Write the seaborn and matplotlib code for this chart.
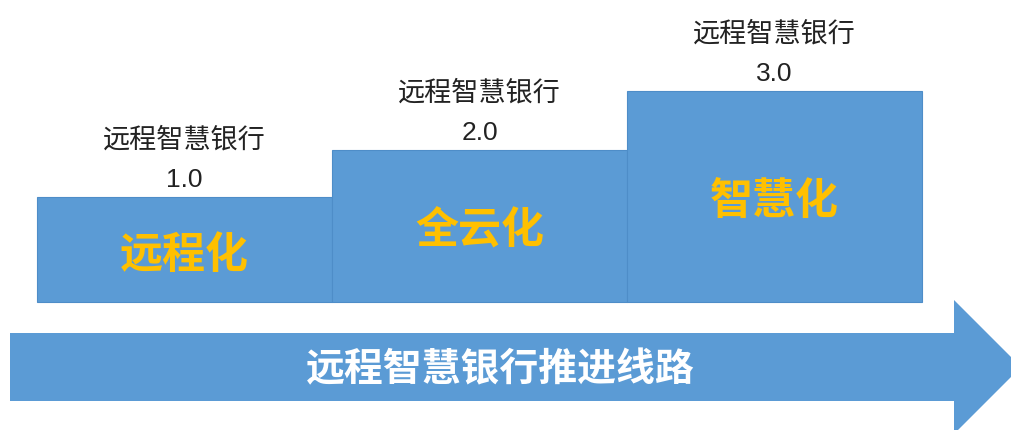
import matplotlib
matplotlib.use("Agg")
import matplotlib.pyplot as plt
from matplotlib.patches import FancyArrow
import seaborn as sns
import pandas as pd

# ---- data ----
stages = ["远程化", "全云化", "智慧化"]
versions = ["1.0", "2.0", "3.0"]
heights = [105, 152, 211]
top_label = "远程智慧银行"
arrow_label = "远程智慧银行推进线路"

BLUE = "#5B9BD5"
YELLOW = "#FFC000"

sns.set_theme(style="white")
plt.rcParams["font.family"] = ["Noto Sans CJK SC", "DejaVu Sans"]

df = pd.DataFrame({"stage": stages, "height": heights})

fig = plt.figure(figsize=(10.11, 4.30), dpi=100)
ax = fig.add_axes([0, 0, 1, 1])

sns.barplot(data=df, x="stage", y="height", order=stages, color=BLUE,
            saturation=1, width=1, gap=0, edgecolor="#4E8DC8", linewidth=0.8,
            ax=ax)

# axes mapping: x in category units (295 px each, bar 0 starts at px 37)
def px_x(p):
    return (p - 37) / 295 - 0.5

def px_y(p):
    return 302 - p

ax.set_xlim(px_x(0), px_x(1011))
ax.set_ylim(px_y(430), px_y(0))
ax.axis("off")

# labels
for i, (st, ver, h) in enumerate(zip(stages, versions, heights)):
    ax.text(i, h / 2 - 5, st, ha="center", va="center", color=YELLOW,
            fontsize=31, fontweight="bold")
    ax.text(i, h + 17, ver, ha="center", va="center", color="#222222",
            fontsize=19, family=["Liberation Sans", "Noto Sans CJK SC"])
    ax.text(i, h + 57, top_label, ha="center", va="center", color="#222222",
            fontsize=19.5)

# bottom arrow
tail = px_x(10)
tip = px_x(1021)
head_base = px_x(954)
arr = FancyArrow(tail, px_y(367), tip - tail, 0, width=68, head_width=134,
                 head_length=tip - head_base, length_includes_head=True,
                 color=BLUE, linewidth=0)
ax.add_patch(arr)
ax.text(px_x(500), px_y(370), arrow_label, ha="center", va="center",
        color="white", fontsize=28, fontweight="bold")

fig.savefig("out.png", dpi=100)
